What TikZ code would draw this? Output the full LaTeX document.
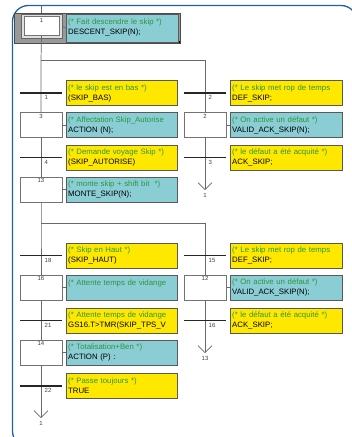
\documentclass[tikz,border=0pt]{standalone}
\usepackage{fontspec}
\setmainfont{Liberation Sans}
\usetikzlibrary{arrows.meta}
\definecolor{cadrebleu}{RGB}{30,95,165}
\definecolor{actcyan}{RGB}{138,205,212}
\definecolor{recjaune}{RGB}{255,232,0}
\definecolor{comvert}{RGB}{45,150,60}
\definecolor{liengris}{RGB}{105,105,105}
\newcommand{\com}[1]{\textcolor{comvert}{#1}}
\tikzset{
	etape/.style={draw=black!55, fill=white, minimum width=42, minimum height=25, inner sep=0},
	etnum/.style={anchor=north, inner sep=1.5, font=\fontsize{6}{7}\selectfont, text=black!75},
	boite/.style={draw=black!65, anchor=west, minimum height=25, text width=107, inner xsep=2,
		align=left, font=\fontsize{7.8}{10}\selectfont},
	action/.style={boite, fill=actcyan},
	recept/.style={boite, fill=recjaune},
	barre/.style={line width=1.2pt, black!85},
	lien/.style={draw=liengris, line width=0.7pt},
	fleche/.style={lien, -{Straight Barb[length=7pt, width=14pt]}},
}

\begin{document}
\begin{tikzpicture}[x=1pt, y=-1pt]
	%%%%% START %%%%%
	\useasboundingbox (0,0) rectangle (352,437);
	\begin{scope}
		\clip (0,0) rectangle (352,437);
		\draw[cadrebleu, line width=1.3pt, rounded corners=16] (12.5,5.5) rectangle (357,447);
	\end{scope}
	
	% etape initiale
	\coordinate (haut) at (41,6);
	\draw[lien] (haut) -- (41,13);
	\draw[fill=black!40, draw=black!70] (14,13) rectangle (180,43);
	\fill (180,43) rectangle (177.5,40.5);
	\node[etape, minimum width=41, minimum height=24, fill=black!12, draw=black!60] (e1) at (41.5,26) {};
	\node[etape, minimum width=35, minimum height=19, label={[etnum]north:1}] (e1i) at (e1) {};
	\node[action, anchor=north west, minimum height=28, inner ysep=2.5, text width=108] (a1) at (66,14) {\com{(* Fait descendre le skip *)}\\DESCENT\_SKIP(N);\\[-6pt]\mbox{}};
	
	% premiere sequence
	\node[etape, label={[etnum]north:3}] (e3) at (41,125) {};
	\node[action] (a3) at (66,125) {\com{(* Affectation Skip\_Autorise}\\ACTION (N);};
	\node[etape, label={[etnum]north:13}] (e13) at (41,189.5) {};
	\node[action] (a13) at (66,189.5) {\com{(* monte skip + shift bit\ \ *)}\\MONTE\_SKIP(N);};
	\node[etape, label={[etnum]north:2}] (e2) at (205,125) {};
	\node[action, text width=108] (a2) at (230,125) {\com{(* On active un défaut *)}\\VALID\_ACK\_SKIP(N);};
	
	\coordinate (d1) at (41,60);
	\coordinate (d1r) at (205,60);
	\coordinate (fin2) at (205,190);
	\draw[lien] (e1i.south) -- (d1) -- (e3.north);
	\draw[lien] (d1) -- (d1r) -- (e2.north);
	\draw[fleche] (e2.south) -- (fin2);
	\node[etnum] (r2) at ([shift={(0,2)}]fin2) {1};
	\draw[lien] (e3.south) -- (e13.north);
	\draw[lien] (e1.east) -- (a1.west);
	\draw[lien] (e3.east) -- (a3.west);
	\draw[lien] (e13.east) -- (a13.west);
	\draw[lien] (e2.east) -- (a2.west);
	
	\coordinate (t1) at (41,93);
	\draw[barre] ([xshift=-21]t1) -- ([xshift=21]t1);
	\node[etnum, anchor=north west] (n1) at ([shift={(2,1)}]t1) {1};
	\node[recept] (c1) at (66,93) {\com{(* le skip est en bas *)}\\(SKIP\_BAS)};
	\coordinate (t2) at (205,93);
	\draw[barre] ([xshift=-21]t2) -- ([xshift=21]t2);
	\node[etnum, anchor=north west] (n2) at ([shift={(2,1)}]t2) {2};
	\node[recept, text width=108] (c2) at (230,93) {\com{(* Le skip met rop de temps}\\DEF\_SKIP;};
	\coordinate (t4) at (41,157.5);
	\draw[barre] ([xshift=-21]t4) -- ([xshift=21]t4);
	\node[etnum, anchor=north west] (n4) at ([shift={(2,1)}]t4) {4};
	\node[recept] (c4) at (66,157.5) {\com{(* Demande voyage Skip *)}\\(SKIP\_AUTORISE)};
	\coordinate (t3) at (205,157.5);
	\draw[barre] ([xshift=-21]t3) -- ([xshift=21]t3);
	\node[etnum, anchor=north west] (n3) at ([shift={(2,1)}]t3) {3};
	\node[recept, text width=108] (c3) at (230,157.5) {\com{(* le défaut a été acquité *)}\\ACK\_SKIP;};
	
	% deuxieme sequence
	\node[etape, label={[etnum]north:16}] (e16) at (41,287.5) {};
	\node[action] (a16) at (66,287.5) {\com{(* Attente temps de vidange}\\\mbox{}};
	\node[etape, label={[etnum]north:14}] (e14) at (41,352.5) {};
	\node[action] (a14) at (66,352.5) {\com{(* Totalisation+Ben *)}\\ACTION (P) :};
	\node[etape, label={[etnum]north:12}] (e12) at (205,287.5) {};
	\node[action, text width=108] (a12) at (230,287.5) {\com{(* On active un défaut *)}\\VALID\_ACK\_SKIP(N);};
	
	\coordinate (d2) at (41,223);
	\coordinate (d2r) at (205,223);
	\coordinate (fin13) at (205,353);
	\coordinate (fin1) at (41,418);
	\draw[lien] (e13.south) -- (d2) -- (e16.north);
	\draw[lien] (d2) -- (d2r) -- (e12.north);
	\draw[fleche] (e12.south) -- (fin13);
	\node[etnum] (r13) at ([shift={(0,2)}]fin13) {13};
	\draw[lien] (e16.south) -- (e14.north);
	\draw[fleche] (e14.south) -- (fin1);
	\node[etnum] (r1) at ([shift={(0,2)}]fin1) {1};
	\draw[lien] (e16.east) -- (a16.west);
	\draw[lien] (e14.east) -- (a14.west);
	\draw[lien] (e12.east) -- (a12.west);
	
	\coordinate (t18) at (41,255.5);
	\draw[barre] ([xshift=-21]t18) -- ([xshift=21]t18);
	\node[etnum, anchor=north west] (n18) at ([shift={(2,1)}]t18) {18};
	\node[recept] (c18) at (66,255.5) {\com{(* Skip en Haut *)}\\(SKIP\_HAUT)};
	\coordinate (t15) at (205,255.5);
	\draw[barre] ([xshift=-21]t15) -- ([xshift=21]t15);
	\node[etnum, anchor=north west] (n15) at ([shift={(2,1)}]t15) {15};
	\node[recept, text width=108] (c15) at (230,255.5) {\com{(* Le skip met rop de temps}\\DEF\_SKIP;};
	\coordinate (t21) at (41,320.5);
	\draw[barre] ([xshift=-21]t21) -- ([xshift=21]t21);
	\node[etnum, anchor=north west] (n21) at ([shift={(2,1)}]t21) {21};
	\node[recept] (c21) at (66,320.5) {\com{(* Attente temps de vidange}\\GS16.T>TMR(SKIP\_TPS\_V};
	\coordinate (t16) at (205,320.5);
	\draw[barre] ([xshift=-21]t16) -- ([xshift=21]t16);
	\node[etnum, anchor=north west] (n16) at ([shift={(2,1)}]t16) {16};
	\node[recept, text width=108] (c16) at (230,320.5) {\com{(* le défaut a été acquité *)}\\ACK\_SKIP;};
	\coordinate (t22) at (41,386);
	\draw[barre] ([xshift=-21]t22) -- ([xshift=21]t22);
	\node[etnum, anchor=north west] (n22) at ([shift={(2,1)}]t22) {22};
	\node[recept] (c22) at (66,386) {\com{(* Passe toujours *)}\\TRUE};
	
	%%%%% END %%%%%
\end{tikzpicture}
\end{document}
